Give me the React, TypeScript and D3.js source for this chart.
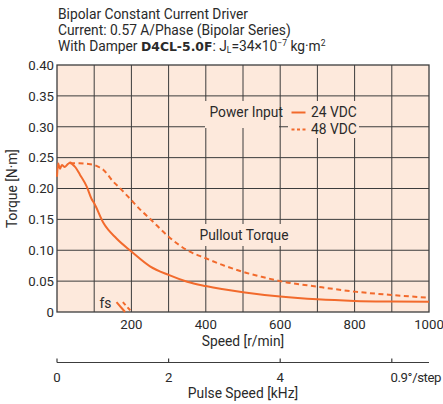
import React from "react";
import * as d3 from "d3";

const speedTicks = [200, 400, 600, 800, 1000];
const torqueTicks = [0, 0.05, 0.1, 0.15, 0.2, 0.25, 0.3, 0.35, 0.4];
const pulseTicks = [0, 2, 4, 6];
const pulseTickLabels = ["0", "2", "4", "0.9°/step"];

// 24 VDC pullout torque [speed r/min, torque N·m]
const speed24 = [0, 3, 8, 13, 21, 30, 36, 40, 50, 62, 80, 93, 100, 125, 160, 200, 250, 300, 350, 400, 500, 600, 700, 800, 900, 1000];
const torque24 = [0.219, 0.241, 0.232, 0.238, 0.235, 0.24, 0.242, 0.24, 0.234, 0.222, 0.203, 0.183, 0.176, 0.144, 0.119, 0.098, 0.074, 0.06, 0.049, 0.042, 0.032, 0.025, 0.0205, 0.018, 0.017, 0.0165];

// 48 VDC pullout torque
const speed48 = [35, 60, 80, 100, 115, 125, 150, 175, 200, 225, 250, 300, 350, 400, 450, 500, 550, 600, 700, 800, 900, 1000];
const torque48 = [0.241, 0.241, 0.24, 0.238, 0.234, 0.23, 0.212, 0.197, 0.181, 0.165, 0.151, 0.122, 0.1, 0.087, 0.075, 0.065, 0.057, 0.05, 0.041, 0.033, 0.0275, 0.023];

// fs marks
const fs24Speed = [160, 183];
const fs24Torque = [0.016, 0];
const fs48Speed = [177, 201];
const fs48Torque = [0.016, 0];

const W = 443;
const H = 404;
const L = 57, R = 429, T = 65, B = 312;
const ORANGE = "#f26a2c";
const GRID = "#3c3c3c";
const TEXT = "#2a2a2a";
const BG = "#fde9dc";
const FONT = "Roboto, 'Liberation Sans', Arial, sans-serif";

export default function App() {
  const x = d3.scaleLinear().domain([0, 1000]).range([L, R]);
  const y = d3.scaleLinear().domain([0, 0.4]).range([B, T]);
  const xk = d3.scaleLinear().domain([0, 1000 * 400 / 60 / 1000]).range([L, R]);

  const line = d3
    .line<[number, number]>()
    .x((d) => x(d[0]))
    .y((d) => y(d[1]))
    .curve(d3.curveMonotoneX);
  const straight = d3
    .line<[number, number]>()
    .x((d) => x(d[0]))
    .y((d) => y(d[1]));

  const d24 = line(speed24.map((s, i) => [s, torque24[i]] as [number, number])) || "";
  const d48 = line(speed48.map((s, i) => [s, torque48[i]] as [number, number])) || "";
  const f24 = straight(fs24Speed.map((s, i) => [s, fs24Torque[i]] as [number, number])) || "";
  const f48 = straight(fs48Speed.map((s, i) => [s, fs48Torque[i]] as [number, number])) || "";

  const vGrid = d3.range(100, 1000, 100);

  return (
    <svg
      width={W}
      height={H}
      style={{ position: "absolute", left: 0, top: 0, background: "#fff" }}
      fontFamily={FONT}
    >
      {/* title */}
      <g fill={TEXT} fontSize={13.8}>
        <text x={58} y={19}>Bipolar Constant Current Driver</text>
        <text x={58} y={35}>Current: 0.57 A/Phase (Bipolar Series)</text>
        <text x={58} y={51}>
          With Damper{" "}
          <tspan fontFamily="'DejaVu Sans', sans-serif" fontWeight="bold" fontSize={12.4}>
            D4CL-5.0F
          </tspan>
          <tspan>: J</tspan>
          <tspan fontSize={8.5} dy={1.5}>L</tspan>
          <tspan dy={-1.5}>=34×10</tspan>
          <tspan fontSize={8.5} dy={-5}>−7</tspan>
          <tspan dy={5}> kg·m</tspan>
          <tspan fontSize={8.5} dy={-5}>2</tspan>
        </text>
      </g>

      {/* plot background */}
      <rect x={L} y={T} width={R - L} height={B - T} fill={BG} />

      {/* grid */}
      <g stroke={GRID} strokeWidth={1}>
        {vGrid.map((v) => (
          <line key={"v" + v} x1={x(v)} x2={x(v)} y1={T} y2={B} />
        ))}
        {torqueTicks.slice(1, -1).map((t) => (
          <line key={"h" + t} x1={L} x2={R} y1={y(t)} y2={y(t)} />
        ))}
      </g>
      <rect x={L} y={T} width={R - L} height={B - T} fill="none" stroke={GRID} strokeWidth={1.3} />

      {/* text backgrounds */}
      <rect x={205} y={101} width={74} height={27} fill={BG} />
      <rect x={288} y={101} width={71} height={37} fill={BG} />
      <rect x={199} y={224} width={91} height={22} fill={BG} />

      {/* curves */}
      <g fill="none" stroke={ORANGE} strokeWidth={2}>
        <path d={d24} />
        <path d={d48} strokeDasharray="5,3.5" />
        <path d={f24} />
        <path d={f48} strokeDasharray="4,3" />
      </g>

      {/* legend */}
      <g fill={TEXT} fontSize={13.8}>
        <text x={283} y={117} textAnchor="end">Power Input</text>
        <text x={311} y={117}>24 VDC</text>
        <text x={311} y={134}>48 VDC</text>
        <text x={244} y={240} textAnchor="middle">Pullout Torque</text>
        <text x={99.5} y={308}>fs</text>
      </g>
      <g stroke={ORANGE} strokeWidth={2}>
        <line x1={291.5} x2={305.5} y1={112.5} y2={112.5} />
        <line x1={291.5} x2={305.5} y1={129.5} y2={129.5} strokeDasharray="3,2.5" />
      </g>

      {/* y axis labels */}
      <g fill={TEXT} fontSize={13.2} textAnchor="end">
        {torqueTicks.map((t) => (
          <text key={"yt" + t} x={54} y={y(t)} dy="0.36em">
            {t === 0 ? "0" : t.toFixed(2)}
          </text>
        ))}
      </g>
      <text
        transform={`translate(17,${(T + B) / 2}) rotate(-90)`}
        textAnchor="middle"
        fill={TEXT}
        fontSize={13.8}
      >
        Torque [N·m]
      </text>

      {/* x axis labels */}
      <g fill={TEXT} fontSize={13.2} textAnchor="middle">
        {speedTicks.map((s) => (
          <text key={"xt" + s} x={x(s)} y={328.7}>
            {s}
          </text>
        ))}
      </g>
      <text x={(L + R) / 2} y={346} textAnchor="middle" fill={TEXT} fontSize={13.8}>
        Speed [r/min]
      </text>

      {/* pulse speed axis */}
      <g stroke={GRID} strokeWidth={1.2}>
        <line x1={L} x2={R} y1={362.5} y2={362.5} />
        {pulseTicks.map((p) => (
          <line key={"pt" + p} x1={xk(p)} x2={xk(p)} y1={358.5} y2={362.5} />
        ))}
      </g>
      <g fill={TEXT} fontSize={13.2}>
        {pulseTicks.map((p, i) => (
          <text
            key={"pl" + p}
            x={i === pulseTicks.length - 1 ? 441.5 : xk(p)}
            y={381.7}
            textAnchor={i === pulseTicks.length - 1 ? "end" : "middle"}
            textLength={i === pulseTicks.length - 1 ? 51 : undefined}
          >
            {pulseTickLabels[i]}
          </text>
        ))}
      </g>
      <text x={(L + R) / 2} y={398} textAnchor="middle" fill={TEXT} fontSize={13.8}>
        Pulse Speed [kHz]
      </text>
    </svg>
  );
}
